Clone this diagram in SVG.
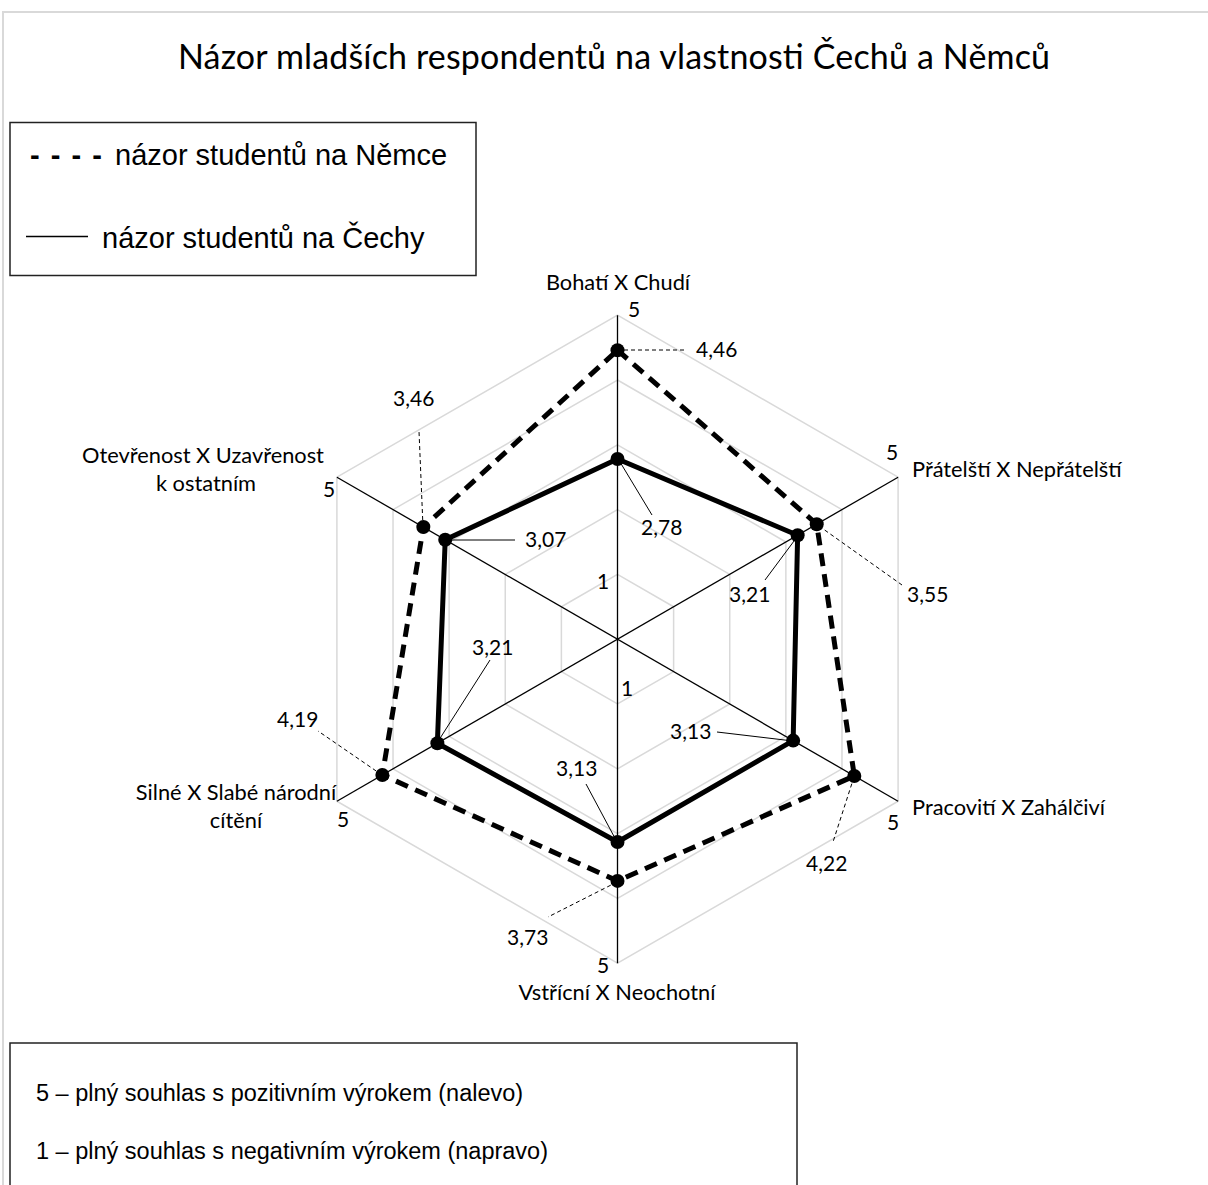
<svg xmlns="http://www.w3.org/2000/svg" width="1208" height="1185" viewBox="0 0 1208 1185">
<style>
.ring{fill:none;stroke:#d9d9d9;stroke-width:1.5}
.axis{stroke:#000;stroke-width:1.3}
.ser{fill:none;stroke:#000;stroke-width:5;stroke-linejoin:round}
.de{stroke-dasharray:13 8}
.dot{fill:#000}
.ld{stroke:#000;stroke-width:1;fill:none}
.ldd{stroke:#000;stroke-width:1;fill:none;stroke-dasharray:4 3}
.t{font-family:Lato,"Liberation Sans",sans-serif;font-size:21px;fill:#000}
.c{font-size:21.8px}
.a{font-family:"Liberation Sans",Arial,sans-serif;fill:#000}
</style>
<rect width="1208" height="1185" fill="#fff"/>
<path d="M3,1185 V12 H1208" fill="none" stroke="#d9d9d9" stroke-width="2"/>
<text id="title" x="178" y="69" class="t" style="font-size:34px" textLength="872">Názor mladších respondentů na vlastnosti Čechů a Němců</text>
<g id="legend">
<rect x="10" y="122.5" width="466" height="153" fill="#fff" stroke="#222" stroke-width="1.5"/>
<text class="a" x="30" y="165" font-size="29" letter-spacing="1.5" font-weight="bold">- - - -</text>
<text class="a" x="115" y="165" font-size="29">názor studentů na Němce</text>
<line x1="26" y1="236.5" x2="88" y2="236.5" stroke="#000" stroke-width="1.5"/>
<text class="a" x="102" y="248" font-size="29">názor studentů na Čechy</text>
</g>
<g id="grid">
<polygon class="ring" points="617.5,574.4 673.62,606.8 673.62,671.6 617.5,704 561.38,671.6 561.38,606.8"/>
<polygon class="ring" points="617.5,509.6 729.74,574.4 729.74,704 617.5,768.8 505.26,704 505.26,574.4"/>
<polygon class="ring" points="617.5,444.8 785.86,542 785.86,736.4 617.5,833.6 449.14,736.4 449.14,542"/>
<polygon class="ring" points="617.5,380 841.97,509.6 841.97,768.8 617.5,898.4 393.03,768.8 393.03,509.6"/>
<polygon class="ring" points="617.5,315.2 898.09,477.2 898.09,801.2 617.5,963.2 336.91,801.2 336.91,477.2"/>
</g>
<g id="axes">
<line class="axis" x1="617.5" y1="315.2" x2="617.5" y2="963.2"/>
<line class="axis" x1="898.09" y1="477.2" x2="336.91" y2="801.2"/>
<line class="axis" x1="898.09" y1="801.2" x2="336.91" y2="477.2"/>
</g>
<g id="connectors">
<line class="ldd" x1="624" y1="350" x2="684" y2="350"/>
<line class="ld" x1="620" y1="462" x2="652" y2="515"/>
<line class="ldd" x1="819" y1="526" x2="902" y2="585"/>
<line class="ld" x1="797" y1="537" x2="765" y2="580"/>
<line class="ld" x1="717" y1="732" x2="793" y2="741"/>
<line class="ldd" x1="854" y1="777" x2="833" y2="842"/>
<line class="ld" x1="617" y1="842" x2="586" y2="784"/>
<line class="ldd" x1="617" y1="882" x2="548" y2="917"/>
<line class="ldd" x1="382" y1="775" x2="318" y2="731"/>
<line class="ld" x1="437" y1="743" x2="490" y2="660"/>
<line class="ld" x1="445" y1="540" x2="515" y2="540"/>
<line class="ldd" x1="423" y1="527" x2="419" y2="431"/>
</g>
<g id="series-nemci">
<polygon class="ser de" points="617.5,350.2 816.72,524.18 854.32,775.93 617.5,880.9 382.37,774.96 423.33,527.1"/>
<circle class="dot" cx="617.5" cy="350.2" r="7"/>
<circle class="dot" cx="816.72" cy="524.18" r="7"/>
<circle class="dot" cx="854.32" cy="775.93" r="7"/>
<circle class="dot" cx="617.5" cy="880.9" r="7"/>
<circle class="dot" cx="382.37" cy="774.96" r="7"/>
<circle class="dot" cx="423.33" cy="527.1" r="7"/>
</g>
<g id="series-cesi">
<polygon class="ser" points="617.5,459.06 797.64,535.2 793.15,740.61 617.5,842.02 437.36,743.2 445.22,539.73"/>
<circle class="dot" cx="617.5" cy="459.06" r="7"/>
<circle class="dot" cx="797.64" cy="535.2" r="7"/>
<circle class="dot" cx="793.15" cy="740.61" r="7"/>
<circle class="dot" cx="617.5" cy="842.02" r="7"/>
<circle class="dot" cx="437.36" cy="743.2" r="7"/>
<circle class="dot" cx="445.22" cy="539.73" r="7"/>
</g>
<g id="axis-labels">
<text class="t c" x="618" y="290" text-anchor="middle">Bohatí X Chudí</text>
<text class="t c" x="912" y="477">Přátelští X Nepřátelští</text>
<text class="t c" x="912" y="815">Pracovití X Zahálčiví</text>
<text class="t c" x="617" y="1000" text-anchor="middle">Vstřícní X Neochotní</text>
<text class="t c" x="236" y="800" text-anchor="middle">Silné X Slabé národní</text>
<text class="t c" x="236" y="828" text-anchor="middle">cítění</text>
<text class="t c" x="203" y="463" text-anchor="middle">Otevřenost X Uzavřenost</text>
<text class="t c" x="206" y="491" text-anchor="middle">k ostatním</text>
</g>
<g id="scale-labels">
<text class="t" x="628" y="317">5</text>
<text class="t" x="886" y="460">5</text>
<text class="t" x="887" y="830">5</text>
<text class="t" x="597" y="973">5</text>
<text class="t" x="337" y="827">5</text>
<text class="t" x="323" y="497">5</text>
<text class="t" x="597" y="589">1</text>
<text class="t" x="621" y="696">1</text>
</g>
<g id="data-labels">
<text class="t" x="696" y="357">4,46</text>
<text class="t" x="641" y="535">2,78</text>
<text class="t" x="907" y="602">3,55</text>
<text class="t" x="729" y="602">3,21</text>
<text class="t" x="670" y="739">3,13</text>
<text class="t" x="806" y="871">4,22</text>
<text class="t" x="556" y="776">3,13</text>
<text class="t" x="507" y="945">3,73</text>
<text class="t" x="277" y="727">4,19</text>
<text class="t" x="472" y="655">3,21</text>
<text class="t" x="525" y="547">3,07</text>
<text class="t" x="393" y="406">3,46</text>
</g>
<g id="note">
<rect x="10" y="1043" width="787" height="200" fill="#fff" stroke="#222" stroke-width="1.5"/>
<text class="a" x="36" y="1101" font-size="23.5">5 – plný souhlas s pozitivním výrokem (nalevo)</text>
<text class="a" x="36" y="1159" font-size="23.5">1 – plný souhlas s negativním výrokem (napravo)</text>
</g>
</svg>
